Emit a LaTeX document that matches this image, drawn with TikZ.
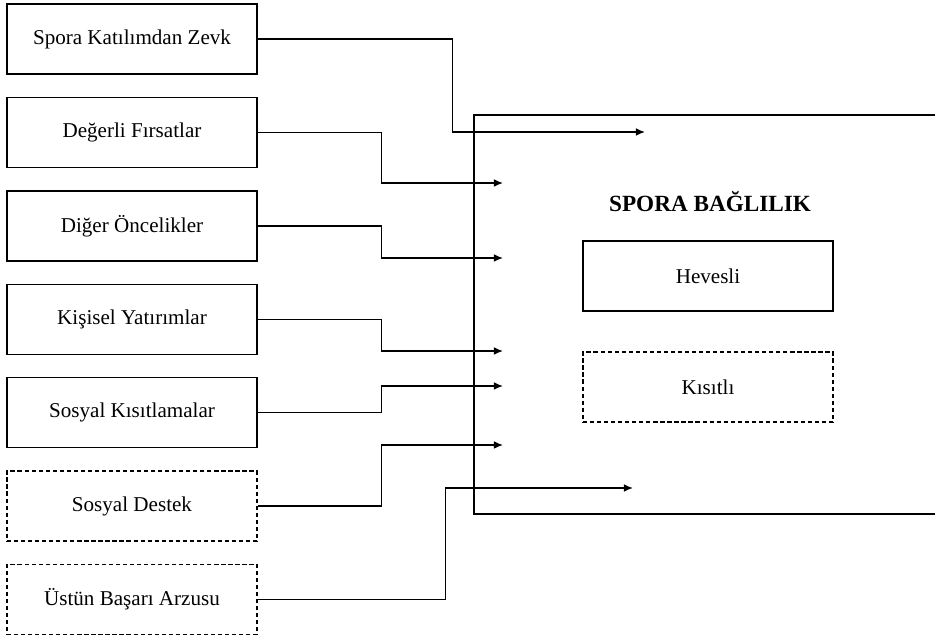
\documentclass[tikz,border=0pt]{standalone}
\usepackage{fontspec}
\setmainfont{Liberation Serif}
\usetikzlibrary{positioning,arrows.meta}
\tikzset{every path/.style={line width=1pt},
  factor/.style={draw, minimum width=6.25cm, minimum height=1.75cm, inner sep=2pt, font=\fontsize{15}{18}\selectfont},
  factordash/.style={factor, dash pattern=on 3pt off 2pt},
  conn/.style={-{Latex[length=6.5pt,width=5.5pt]}}}

\begin{document}
\begin{tikzpicture}
  \useasboundingbox (0,0) rectangle (23.375,15.875);
  \node[factor] (f1) at (3.3,14.9) {Spora Katılımdan Zevk};
  \node[factor, below=0.55cm of f1] (f2) {Değerli Fırsatlar};
  \node[factor, below=0.55cm of f2] (f3) {Diğer Öncelikler};
  \node[factor, below=0.55cm of f3] (f4) {Kişisel Yatırımlar};
  \node[factor, below=0.55cm of f4] (f5) {Sosyal Kısıtlamalar};
  \node[factordash, below=0.55cm of f5] (f6) {Sosyal Destek};
  \node[factordash, below=0.55cm of f6] (f7) {Üstün Başarı Arzusu};
  % outer box, open on the right
  \draw (23.375,13) -- (11.85,13) -- (11.85,3.025) -- (23.375,3.025);
  \node[font=\bfseries\fontsize{16.5}{20}\selectfont] (title) at (17.75,10.825) {SPORA BAĞLILIK};
  \node[factor] (hev) at (17.7,8.975) {Hevesli};
  \node[factordash] (kis) at (17.7,6.2) {Kısıtlı};
  \coordinate (a1) at (16.125,12.575);
  \coordinate (a2) at (12.575,11.3);
  \coordinate (a3) at (12.575,9.425);
  \coordinate (a4) at (12.575,7.1);
  \coordinate (a5) at (12.575,6.225);
  \coordinate (a6) at (12.575,4.75);
  \coordinate (a7) at (15.825,3.675);
  \draw[conn] (f1.east) -- ++(4.875,0) |- (a1);
  \draw[conn] (f2.east) -- ++(3.1,0) |- (a2);
  \draw[conn] (f3.east) -- ++(3.1,0) |- (a3);
  \draw[conn] (f4.east) -- ++(3.1,0) |- (a4);
  \draw[conn] (f5.east) -- ++(3.1,0) |- (a5);
  \draw[conn] (f6.east) -- ++(3.1,0) |- (a6);
  \draw[conn] (f7.east) -- ++(4.7,0) |- (a7);
\end{tikzpicture}
\end{document}
